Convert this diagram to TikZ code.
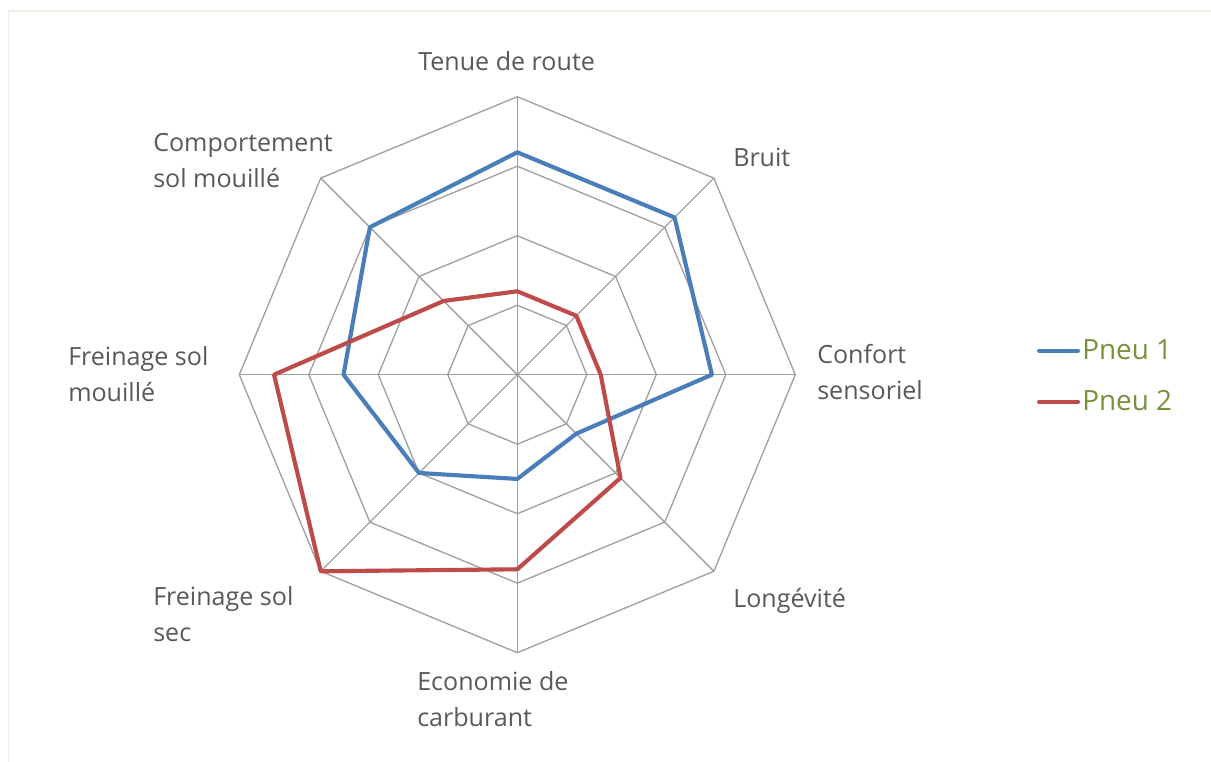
\documentclass[tikz,border=0pt]{standalone}
\usepackage{fontspec}
\setmainfont{Open Sans}
\usetikzlibrary{calc}
\definecolor{gridc}{HTML}{A0A0A0}
\definecolor{labc}{HTML}{595959}
\definecolor{pneuA}{HTML}{4A7EBB}
\definecolor{pneuB}{HTML}{BE4B48}
\definecolor{legc}{HTML}{76923C}
\definecolor{framec}{HTML}{EEEEE2}
\begin{document}
\begin{tikzpicture}[x=0.75pt,y=-0.75pt,
  gridline/.style={draw=gridc,line width=1pt},
  serie/.style={line width=3.1pt,line join=round},
  lbl/.style={anchor=base west,inner sep=0pt,text=labc,font=\fontsize{18.8}{27}\selectfont},
  legtxt/.style={anchor=base west,inner sep=0pt,text=legc,font=\fontsize{20.9}{27}\selectfont}]
\useasboundingbox (0,0) rectangle (1211,762);
\fill[white] (0,0) rectangle (1211,762);
\draw[framec,line width=1.2pt] (8.5,762) -- (8.5,11) -- (1211,11);
\coordinate (c) at (517.3,374.7);
\def\unitpx{13.9}
% grid rings
\foreach \k in {1,2,3,4}{
  \draw[gridline] ($(c)+(-90:{\k*5*\unitpx})$)
    \foreach \i in {1,...,7}{ -- ($(c)+({-90+45*\i}:{\k*5*\unitpx})$) } -- cycle;
}
% spokes
\foreach \i in {0,...,7}{
  \coordinate (ax\i) at ($(c)+({-90+45*\i}:{20*\unitpx})$);
  \draw[gridline] (c) -- (ax\i);
}
% series
\def\serieA{16,16,14,6,7.5,10,12.5,15}
\def\serieB{6,6,6,10.5,14,20,17.5,7.5}
\foreach [count=\i from 0] \v in \serieA { \coordinate (a\i) at ($(c)+({-90+45*\i}:{\v*\unitpx})$); }
\foreach [count=\i from 0] \v in \serieB { \coordinate (b\i) at ($(c)+({-90+45*\i}:{\v*\unitpx})$); }
\draw[serie,pneuA] (a0) -- (a1) -- (a2) -- (a3) -- (a4) -- (a5) -- (a6) -- (a7) -- cycle;
\draw[serie,pneuB] (b0) -- (b1) -- (b2) -- (b3) -- (b4) -- (b5) -- (b6) -- (b7) -- cycle;
% labels
\node[lbl] (l0) at (418,71) {Tenue de route};
\node[lbl] (l1) at (733,167) {Bruit};
\node[lbl] (l2) at (817,364) {\begin{tabular}[t]{@{}l@{}}Confort\\sensoriel\end{tabular}};
\node[lbl] (l3) at (733,608) {Longévité};
\node[lbl] (l4) at (417,691) {\begin{tabular}[t]{@{}l@{}}Economie de\\carburant\end{tabular}};
\node[lbl] (l5) at (153,606) {\begin{tabular}[t]{@{}l@{}}Freinage sol\\sec\end{tabular}};
\node[lbl] (l6) at (68,366) {\begin{tabular}[t]{@{}l@{}}Freinage sol\\mouillé\end{tabular}};
\node[lbl] (l7) at (153,152) {\begin{tabular}[t]{@{}l@{}}Comportement\\sol mouillé\end{tabular}};
% legend
\coordinate (la1) at (1039,350.7);
\coordinate (la2) at (1078,350.7);
\coordinate (lb1) at (1039,401.7);
\coordinate (lb2) at (1078,401.7);
\draw[pneuA,line width=3pt,line cap=round] (la1) -- (la2);
\draw[pneuB,line width=3pt,line cap=round] (lb1) -- (lb2);
\node[legtxt] (t1) at (1082,359.3) {Pneu 1};
\node[legtxt] (t2) at (1082,410.7) {Pneu 2};
\end{tikzpicture}
\end{document}
